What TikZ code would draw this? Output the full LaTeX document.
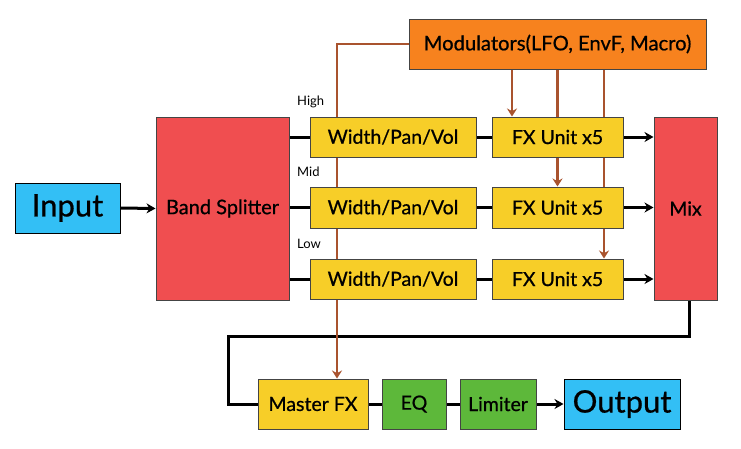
\documentclass[tikz,border=0pt]{standalone}
\usepackage{fontspec}
\setmainfont{Lato}
\newfontfamily\boxfont{Lato}[FakeBold=0.7]
\usetikzlibrary{arrows.meta,backgrounds}
\definecolor{cyanbox}{HTML}{33BFF5}
\definecolor{redbox}{HTML}{F04E50}
\definecolor{yellowbox}{HTML}{F7CE28}
\definecolor{orangebox}{HTML}{F7821E}
\definecolor{greenbox}{HTML}{5DB83A}
\definecolor{modline}{HTML}{A9532E}
\definecolor{boxline}{HTML}{444444}
\begin{document}
\begin{tikzpicture}[x=1pt,y=-1pt,
  box/.style={draw=boxline, line width=1pt, inner sep=0pt, font=\boxfont\fontsize{19.5}{21}\selectfont},
  bigtext/.style={font=\boxfont\fontsize{31}{33}\selectfont},
  sig/.style={draw=black, line width=3pt},
  sigarrow/.style={sig, -{Stealth[length=9pt,width=10pt]}},
  modln/.style={draw=modline, line width=2.6pt},
  modarrow/.style={modln, -{Stealth[length=8pt,width=10pt]}},
  band/.style={font=\fontsize{13}{15}\selectfont, anchor=west, inner sep=0pt}]
\useasboundingbox (0,0) rectangle (741,448);
% nodes
\node[box, fill=cyanbox, draw=black, minimum width=105pt, minimum height=50pt, bigtext] (in) at (67.5,208) {Input};
\node[box, fill=redbox, minimum width=133pt, minimum height=183pt, font=\boxfont\fontsize{20}{22}\selectfont] (split) at (222.5,208.5) {Band Splitter};
\node[box, fill=yellowbox, minimum width=166pt, minimum height=40pt] (w1) at (393,137) {Width/Pan/Vol};
\node[box, fill=yellowbox, minimum width=166pt, minimum height=41pt] (w2) at (393,207.5) {Width/Pan/Vol};
\node[box, fill=yellowbox, minimum width=166pt, minimum height=40pt] (w3) at (393,279) {Width/Pan/Vol};
\node[box, fill=yellowbox, minimum width=131pt, minimum height=40pt] (f1) at (557.5,137) {FX Unit x5};
\node[box, fill=yellowbox, minimum width=131pt, minimum height=41pt] (f2) at (557.5,207.5) {FX Unit x5};
\node[box, fill=yellowbox, minimum width=131pt, minimum height=40pt] (f3) at (557.5,279) {FX Unit x5};
\node[box, fill=redbox, minimum width=63pt, minimum height=183pt] (mix) at (685.5,208.5) {Mix};
\node[box, fill=orangebox, minimum width=297pt, minimum height=50pt, font=\boxfont\fontsize{20.2}{22}\selectfont] (mod) at (557.5,44) {Modulators(LFO, EnvF, Macro)};
\node[box, fill=yellowbox, minimum width=110pt, minimum height=50pt] (master) at (313,404) {Master FX};
\node[box, fill=greenbox, minimum width=64pt, minimum height=50pt] (eq) at (414,404) {EQ};
\node[box, fill=greenbox, minimum width=76pt, minimum height=50pt] (lim) at (498,404) {Limiter};
\node[box, fill=cyanbox, draw=black, minimum width=116pt, minimum height=50pt, bigtext] (out) at (622,404) {Output};
% band labels
\node[band] (lhigh) at (297,102) {High};
\node[band] (lmid) at (297,172) {Mid};
\node[band] (llow) at (297,244) {Low};
% coordinates
\coordinate (b1) at (337,44);
\coordinate (m1) at (512,0);
\coordinate (m2) at (557.5,0);
\coordinate (m3) at (604,0);
\coordinate (mx) at (689,0);
\coordinate (c1) at (228,336);
\begin{scope}[on background layer]
\fill[white] (0,0) rectangle (741,448);
\draw[sigarrow] (in.east) -- (split.west);
\draw[sig] (split.east |- w1.west) -- (w1.west);
\draw[sig] (split.east |- w2.west) -- (w2.west);
\draw[sig] (split.east |- w3.west) -- (w3.west);
\draw[sig] (w1.east) -- (f1.west);
\draw[sig] (w2.east) -- (f2.west);
\draw[sig] (w3.east) -- (f3.west);
\draw[sigarrow] (f1.east) -- (mix.west |- f1.east);
\draw[sigarrow] (f2.east) -- (mix.west |- f2.east);
\draw[sigarrow] (f3.east) -- (mix.west |- f3.east);
\draw[sig] (mx |- mix.south) |- (c1) |- (master.west);
\draw[sig] (master.east) -- (eq.west);
\draw[sig] (eq.east) -- (lim.west);
\draw[sigarrow] (lim.east) -- (out.west);
\draw[modarrow] (mod.west) -- (b1) -- (b1 |- master.north);
\draw[modarrow] (m1 |- mod.south) -- (m1 |- f1.north);
\draw[modarrow] (m2 |- mod.south) -- (m2 |- f2.north);
\draw[modarrow] (m3 |- mod.south) -- (m3 |- f3.north);
\end{scope}
\end{tikzpicture}
\end{document}
